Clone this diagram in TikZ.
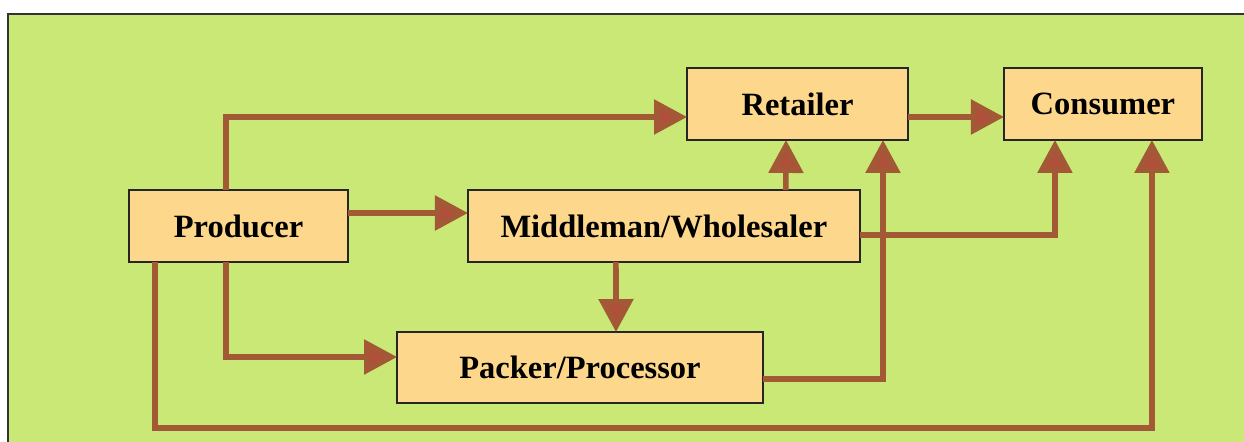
\documentclass[tikz,border=0pt]{standalone}
\usepackage{fontspec}
\setmainfont{Liberation Serif}
\usetikzlibrary{arrows.meta, positioning}

\definecolor{bggreen}{RGB}{201,232,118}
\definecolor{boxfill}{RGB}{253,216,140}
\definecolor{flowbrown}{RGB}{163,88,54}
\definecolor{tipred}{RGB}{176,80,58}

\begin{document}
\begin{tikzpicture}[
    x=0.02cm, y=-0.02cm,
    stagebox/.style={rectangle, draw=black!85, fill=boxfill, line width=1pt, outer sep=0pt, minimum height=1.44cm, inner sep=0pt, font=\fontsize{18.5}{20}\selectfont\bfseries},
    flow/.style={-{Triangle[length=0.66cm, width=0.68cm, fill=tipred]}, line width=3.2pt, draw=flowbrown}
]
\useasboundingbox (0,0) rectangle (1244,442);
\fill[bggreen] (8,14) rectangle (1244,442);
\draw[black!80, line width=1.1pt] (8,442) -- (8,14) -- (1244,14);

\node[stagebox, minimum width=4.38cm] (producer) at (238.5,226) {Producer};
\node[stagebox, minimum width=7.84cm, right=2.4cm of producer] (middleman) {Middleman/Wholesaler};
\node[stagebox, minimum width=4.42cm] (retailer) at (797.5,104) {Retailer};
\node[stagebox, minimum width=3.96cm, right=1.92cm of retailer] (consumer) {Consumer};
\node[stagebox, minimum width=7.32cm, minimum height=1.42cm] (packer) at (580,367.5) {Packer/Processor};

\draw[flow] ([xshift=-0.25cm]producer.north) |- ([yshift=-0.26cm]retailer.west);
\draw[flow] ([yshift=0.26cm]producer.east) -- ([yshift=0.26cm]middleman.west);
\draw[flow] ([xshift=2.44cm]middleman.north) -- ([xshift=-0.23cm]retailer.south);
\draw[flow] ([yshift=-0.26cm]retailer.east) -- ([yshift=-0.26cm]consumer.west);
\draw[flow] ([xshift=-0.96cm]middleman.south) -- ([xshift=0.72cm]packer.north);
\draw[flow] ([xshift=-0.25cm]producer.south) |- ([yshift=0.21cm]packer.west);
\draw[flow] ([xshift=-1.67cm]producer.south) -- ++(0,166) -| ([xshift=0.98cm]consumer.south);
\draw[flow] ([yshift=-0.18cm]middleman.east) -| ([xshift=-0.96cm]consumer.south);
\draw[flow] ([yshift=-0.23cm]packer.east) -| ([xshift=1.71cm]retailer.south);

\end{tikzpicture}
\end{document}
